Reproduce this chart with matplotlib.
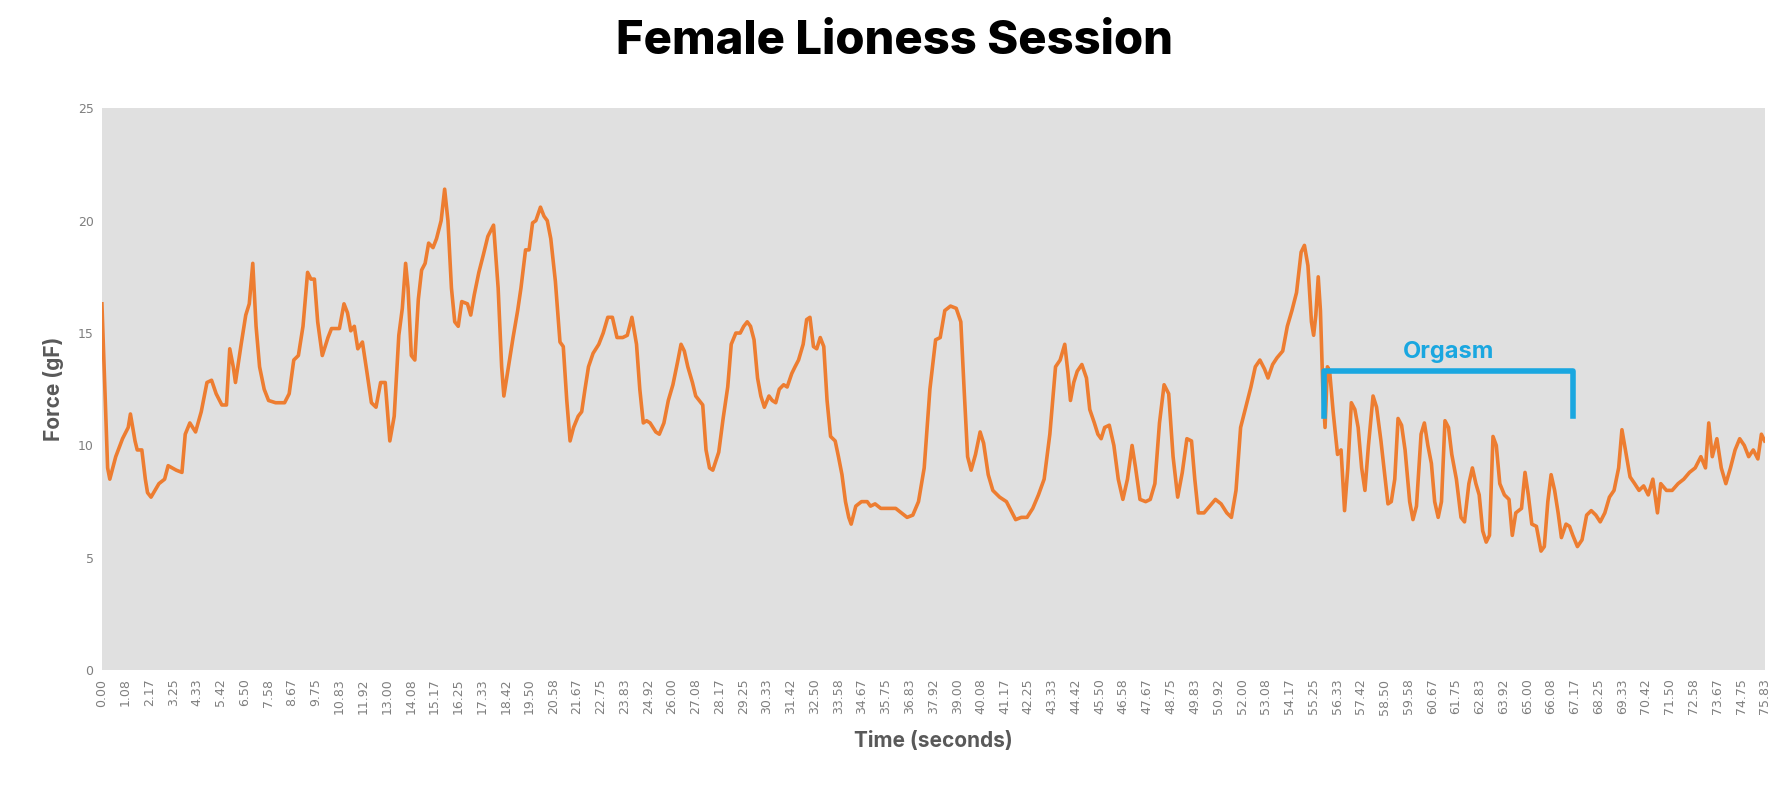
import numpy as np
import matplotlib
matplotlib.use("Agg")
import matplotlib.pyplot as plt

time_s = [0.00,0.26,0.36,0.63,0.94,1.20,1.30,1.51,1.61,1.82,1.98,2.08,2.24,2.60,2.86,3.02,3.39,3.65,3.80,4.01,4.27,4.53,4.79,5.00,5.21,5.47,5.68,5.83,5.99,6.09,6.35,6.56,6.72,6.88,7.03,7.19,7.40,7.60,7.92,8.33,8.54,8.75,8.96,9.17,9.38,9.53,9.69,9.84,10.05,10.31,10.47,10.83,11.04,11.20,11.35,11.51,11.67,11.88,12.08,12.29,12.50,12.71,12.92,13.13,13.33,13.54,13.70,13.85,13.96,14.11,14.27,14.43,14.58,14.74,14.90,15.10,15.26,15.47,15.63,15.78,15.94,16.09,16.25,16.41,16.67,16.82,16.98,17.19,17.40,17.60,17.86,18.07,18.23,18.33,18.54,18.75,18.96,19.11,19.32,19.48,19.64,19.79,20.00,20.16,20.31,20.47,20.68,20.89,21.04,21.20,21.35,21.51,21.72,21.88,22.03,22.19,22.40,22.66,22.86,23.07,23.28,23.49,23.75,23.96,24.17,24.38,24.53,24.69,24.84,25.00,25.26,25.42,25.63,25.83,26.04,26.25,26.41,26.56,26.72,26.93,27.08,27.24,27.40,27.55,27.71,27.86,28.13,28.33,28.54,28.70,28.91,29.11,29.27,29.43,29.58,29.74,29.90,30.05,30.21,30.42,30.57,30.73,30.89,31.09,31.25,31.46,31.61,31.77,31.98,32.14,32.29,32.45,32.60,32.76,32.92,33.07,33.23,33.44,33.59,33.75,33.91,34.06,34.17,34.38,34.64,34.90,35.05,35.26,35.52,35.94,36.20,36.46,36.72,36.98,37.24,37.50,37.76,38.02,38.23,38.44,38.70,38.96,39.17,39.32,39.48,39.64,39.84,40.05,40.21,40.42,40.63,40.94,41.25,41.51,41.67,41.93,42.19,42.45,42.71,42.97,43.23,43.49,43.70,43.91,44.06,44.17,44.32,44.48,44.69,44.90,45.05,45.26,45.42,45.57,45.73,45.94,46.15,46.35,46.56,46.77,46.98,47.14,47.34,47.60,47.81,48.02,48.23,48.44,48.65,48.85,49.06,49.27,49.48,49.69,49.84,50.00,50.26,50.52,50.78,51.04,51.30,51.51,51.72,51.93,52.19,52.40,52.60,52.81,53.02,53.18,53.39,53.59,53.85,54.06,54.27,54.48,54.69,54.84,55.00,55.16,55.26,55.36,55.47,55.57,55.68,55.78,55.89,55.99,56.15,56.35,56.51,56.67,56.82,56.98,57.14,57.29,57.45,57.60,57.76,57.97,58.13,58.33,58.49,58.65,58.80,58.96,59.11,59.27,59.43,59.64,59.79,59.95,60.16,60.31,60.47,60.63,60.78,60.94,61.09,61.25,61.41,61.56,61.77,61.98,62.14,62.34,62.50,62.66,62.81,62.97,63.13,63.28,63.44,63.59,63.75,63.96,64.17,64.32,64.48,64.74,64.90,65.05,65.21,65.42,65.63,65.78,65.94,66.09,66.25,66.41,66.56,66.77,66.93,67.08,67.29,67.50,67.71,67.92,68.13,68.33,68.54,68.75,68.96,69.17,69.32,69.48,69.69,69.90,70.10,70.31,70.52,70.73,70.94,71.09,71.35,71.61,71.88,72.14,72.40,72.66,72.92,73.13,73.28,73.44,73.65,73.85,74.06,74.27,74.48,74.69,74.90,75.10,75.31,75.52,75.68,75.83]

force_gf = [16.3,9.0,8.5,9.5,10.3,10.8,11.4,10.2,9.8,9.8,8.5,7.9,7.7,8.3,8.5,9.1,8.9,8.8,10.5,11.0,10.6,11.5,12.8,12.9,12.3,11.8,11.8,14.3,13.5,12.8,14.5,15.8,16.3,18.1,15.3,13.5,12.5,12.0,11.9,11.9,12.3,13.8,14.0,15.3,17.7,17.4,17.4,15.5,14.0,14.8,15.2,15.2,16.3,15.9,15.1,15.3,14.3,14.6,13.3,11.9,11.7,12.8,12.8,10.2,11.3,14.9,16.1,18.1,17.0,14.0,13.8,16.5,17.8,18.1,19.0,18.8,19.2,20.0,21.4,20.0,17.0,15.5,15.3,16.4,16.3,15.8,16.7,17.7,18.5,19.3,19.8,17.0,13.5,12.2,13.5,14.8,16.0,17.0,18.7,18.7,19.9,20.0,20.6,20.2,20.0,19.2,17.3,14.6,14.4,12.0,10.2,10.8,11.3,11.5,12.5,13.5,14.1,14.5,15.0,15.7,15.7,14.8,14.8,14.9,15.7,14.5,12.5,11.0,11.1,11.0,10.6,10.5,11.0,12.0,12.7,13.7,14.5,14.2,13.5,12.8,12.2,12.0,11.8,9.8,9.0,8.9,9.7,11.2,12.6,14.5,15.0,15.0,15.3,15.5,15.3,14.7,13.0,12.2,11.7,12.2,12.0,11.9,12.5,12.7,12.6,13.2,13.5,13.8,14.5,15.6,15.7,14.4,14.3,14.8,14.4,12.0,10.4,10.2,9.5,8.7,7.5,6.8,6.5,7.3,7.5,7.5,7.3,7.4,7.2,7.2,7.2,7.0,6.8,6.9,7.5,9.0,12.5,14.7,14.8,16.0,16.2,16.1,15.5,12.5,9.5,8.9,9.6,10.6,10.1,8.7,8.0,7.7,7.5,7.0,6.7,6.8,6.8,7.2,7.8,8.5,10.5,13.5,13.8,14.5,13.2,12.0,12.8,13.3,13.6,13.0,11.6,11.0,10.5,10.3,10.8,10.9,10.0,8.5,7.6,8.5,10.0,9.0,7.6,7.5,7.6,8.3,11.0,12.7,12.3,9.5,7.7,8.8,10.3,10.2,8.5,7.0,7.0,7.3,7.6,7.4,7.0,6.8,8.0,10.8,11.8,12.6,13.5,13.8,13.4,13.0,13.6,13.9,14.2,15.3,16.0,16.8,18.6,18.9,18.0,15.5,14.9,15.8,17.5,16.0,12.5,10.8,13.5,13.3,11.5,9.6,9.8,7.1,9.0,11.9,11.6,10.8,9.0,8.0,10.0,12.2,11.7,10.2,8.8,7.4,7.5,8.5,11.2,10.9,9.8,7.5,6.7,7.3,10.5,11.0,10.0,9.2,7.5,6.8,7.5,11.1,10.8,9.6,8.5,6.8,6.6,8.3,9.0,8.3,7.8,6.2,5.7,6.0,10.4,10.0,8.3,7.8,7.6,6.0,7.0,7.2,8.8,7.8,6.5,6.4,5.3,5.5,7.5,8.7,8.0,7.0,5.9,6.5,6.4,6.0,5.5,5.8,6.9,7.1,6.9,6.6,7.0,7.7,8.0,9.0,10.7,9.8,8.6,8.3,8.0,8.2,7.8,8.5,7.0,8.3,8.0,8.0,8.3,8.5,8.8,9.0,9.5,9.0,11.0,9.5,10.3,9.0,8.3,9.0,9.8,10.3,10.0,9.5,9.8,9.4,10.5,10.2]

x_tick_values = [i * 65 / 60 for i in range(71)]
x_tick_labels = [f"{v:.2f}" for v in x_tick_values]
y_ticks = [0, 5, 10, 15, 20, 25]

orgasm_start, orgasm_end = 55.73, 67.08
bracket_top, bracket_bottom = 13.3, 11.3

fig = plt.figure(figsize=(17.88, 7.96), dpi=100)
ax = fig.add_axes([0.057, 0.158, 0.930, 0.706])
ax.set_facecolor("#e0e0e0")
ax.plot(time_s, force_gf, color="#ed7d31", lw=2.6, solid_joinstyle="round")
ax.set_xlim(0, 75.83)
ax.set_ylim(0, 25)
ax.set_xticks(x_tick_values)
ax.set_xticklabels(x_tick_labels, rotation=90, fontsize=9, color="#7f7f7f")
ax.set_yticks(y_ticks)
ax.set_yticklabels([str(v) for v in y_ticks], fontsize=9, color="#7f7f7f")
ax.tick_params(length=0, pad=6)
for s in ax.spines.values():
    s.set_visible(False)

ax.plot([orgasm_start, orgasm_start, orgasm_end, orgasm_end],
        [bracket_bottom, bracket_top, bracket_top, bracket_bottom],
        color="#1aa7e0", lw=4, solid_joinstyle="round")
ax.text((orgasm_start + orgasm_end) / 2, bracket_top + 0.35, "Orgasm",
        color="#1aa7e0", fontsize=17, fontweight="bold", family="Inter",
        ha="center", va="bottom")

ax.set_ylabel("Force (gF)", fontsize=15, fontweight="bold", color="#595959", family="Inter", labelpad=10)
ax.set_xlabel("Time (seconds)", fontsize=15, fontweight="bold", color="#595959", family="Inter", labelpad=12)
fig.suptitle("Female Lioness Session", fontsize=34, fontweight="heavy", family="Inter", y=0.975)

fig.savefig("out.png", dpi=100, facecolor="white")
